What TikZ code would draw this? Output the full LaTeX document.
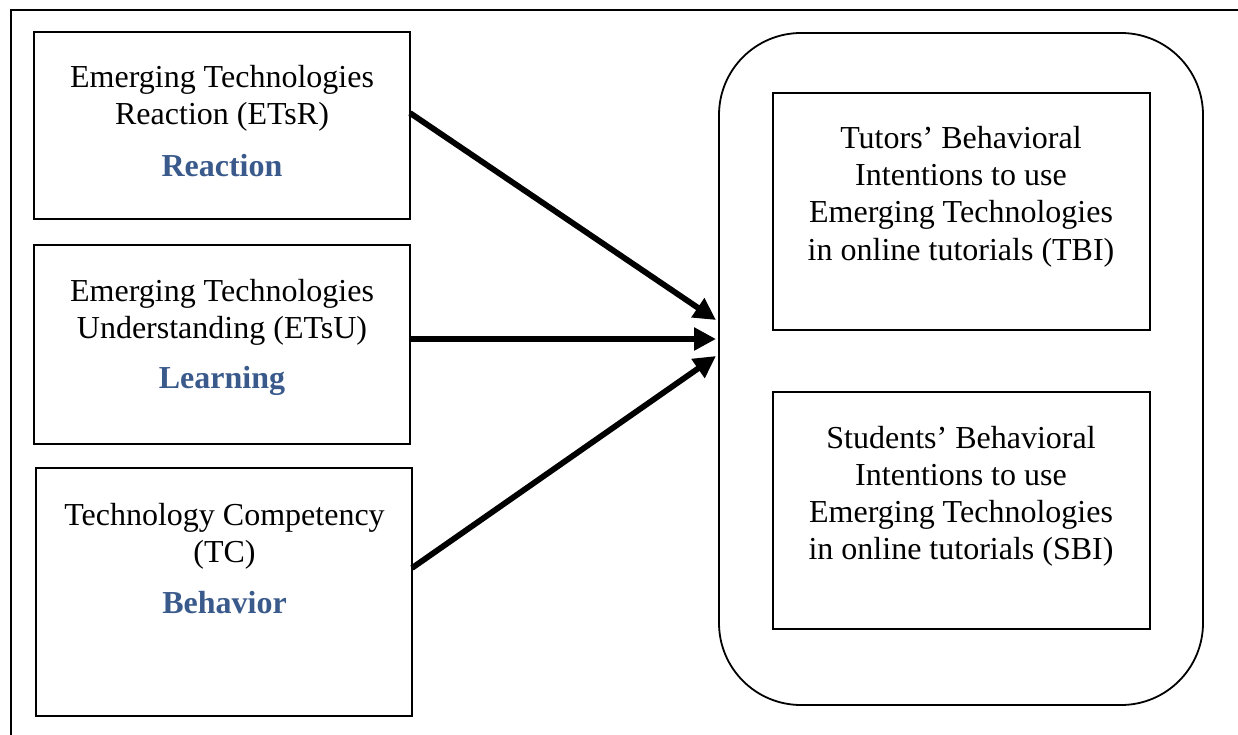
\documentclass[tikz,border=0pt]{standalone}
\usepackage{fontspec}
\setmainfont{Liberation Serif}
\usetikzlibrary{arrows.meta,calc}
\definecolor{lblue}{HTML}{3A5A8C}
\begin{document}
\begin{tikzpicture}[x=1pt,y=-1pt,
  box/.style={draw,line width=1.8pt,inner sep=0pt,outer sep=0pt},
  txt/.style={font=\fontsize{32}{37}\selectfont,anchor=base,inner sep=0pt},
  lvl/.style={font=\fontsize{32}{37}\selectfont\bfseries,text=lblue,anchor=base,inner sep=0pt},
  arr/.style={line width=5.8pt,-{Triangle[length=22pt,width=22pt]}}]
\useasboundingbox (0,0) rectangle (1238,735);
% outer frame (cut by the picture edge)
\draw[line width=1.8pt] (11,735) -- (11,10) -- (1238,10);
% left boxes
\node[box,minimum width=376pt,minimum height=187pt] (b1) at (222,125.5) {};
\node[box,minimum width=376pt,minimum height=199pt] (b2) at (222,344.5) {};
\node[box,minimum width=376pt,minimum height=248pt] (b3) at (224,592) {};
\node[txt] (t1a) at (222,88) {Emerging Technologies};
\node[txt] (t1b) at (222,125) {Reaction (ETsR)};
\node[lvl] (t1c) at (222,177) {Reaction};
\node[txt] (t2a) at (222,301) {Emerging Technologies};
\node[txt] (t2b) at (222,338) {Understanding (ETsU)};
\node[lvl] (t2c) at (222,388) {Learning};
\node[txt] (t3a) at (224.5,525) {Technology Competency};
\node[txt] (t3b) at (224.5,562) {(TC)};
\node[lvl] (t3c) at (224.5,613) {Behavior};
% right group
\node[box,rounded corners=82pt,minimum width=484pt,minimum height=672pt] (big) at (961,369) {};
\node[box,minimum width=377pt,minimum height=237pt] (tbi) at (961.5,211.5) {};
\node[box,minimum width=377pt,minimum height=237pt] (sbi) at (961.5,510.5) {};
\node[txt] (r1a) at (961,149) {Tutors’ Behavioral};
\node[txt] (r1b) at (961,186) {Intentions to use};
\node[txt] (r1c) at (961,223) {Emerging Technologies};
\node[txt] (r1d) at (961,260) {in online tutorials (TBI)};
\node[txt] (r2a) at (961,448) {Students’ Behavioral};
\node[txt] (r2b) at (961,485) {Intentions to use};
\node[txt] (r2c) at (961,522) {Emerging Technologies};
\node[txt] (r2d) at (961,559) {in online tutorials (SBI)};
% arrow targets
\coordinate (p1) at ($(big.west)+(-3,-49)$);
\coordinate (p2) at ($(big.west)+(-3,-30)$);
\coordinate (p3) at ($(big.west)+(-3,-13)$);
\draw[arr] ([yshift=12.5pt]b1.east) -- (p1);
\draw[arr] ([yshift=5.5pt]b2.east) -- (p2);
\draw[arr] ([yshift=24pt]b3.east) -- (p3);
\end{tikzpicture}
\end{document}
